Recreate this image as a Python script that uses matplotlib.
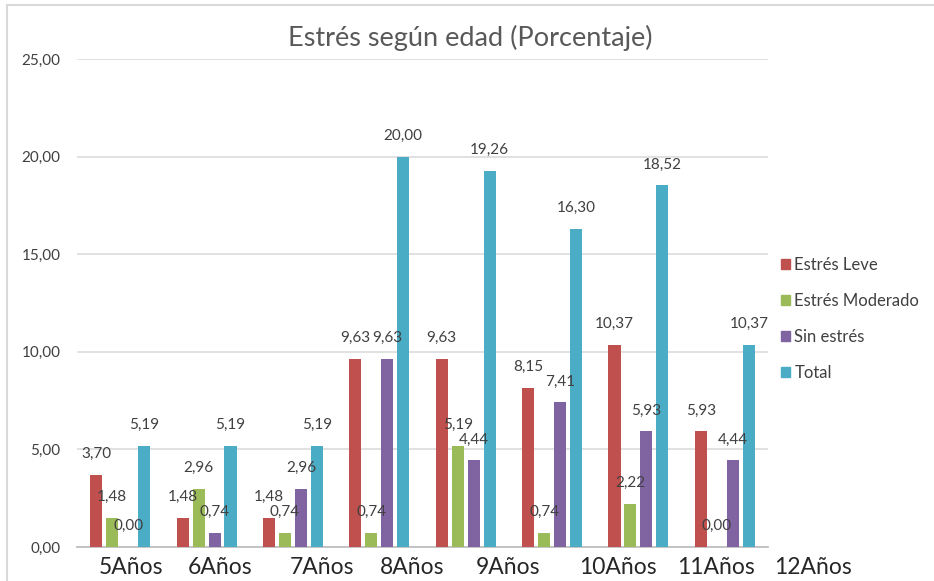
import matplotlib.pyplot as plt
from matplotlib.lines import Line2D
from matplotlib.patches import Patch

# Datos
edades = ["5Años", "6Años", "7Años", "8Años", "9Años", "10Años", "11Años", "12Años"]
series = ["Estrés Leve", "Estrés Moderado", "Sin estrés", "Total"]
leve = [3.70, 1.48, 1.48, 9.63, 9.63, 8.15, 10.37, 5.93]
moderado = [1.48, 2.96, 0.74, 0.74, 5.19, 0.74, 2.22, 0.00]
sin_estres = [0.00, 0.74, 2.96, 9.63, 4.44, 7.41, 5.93, 4.44]
total = [5.19, 5.19, 5.19, 20.00, 19.26, 16.30, 18.52, 10.37]
yticks = [0, 5, 10, 15, 20, 25]

colores = ['#C0504D', '#9BBB59', '#8064A2', '#4BACC6']
# las etiquetas del eje no quedan alineadas con los grupos en el original
tick_x = [0.12, 1.16, 2.34, 3.38, 4.49, 5.76, 6.90, 8.02]

plt.rcParams['font.family'] = ['Lato', 'DejaVu Sans']

fig = plt.figure(figsize=(9.34, 5.81), dpi=100)
ax = fig.add_axes([77 / 934, 1 - 547 / 581, (768 - 77) / 934, (547 - 59) / 581])

n = len(leve)
ancho = 0.14
paso = 0.185
valores = [leve, moderado, sin_estres, total]
for k, (vals, col) in enumerate(zip(valores, colores)):
    xs = [i + (k - 1.5) * paso for i in range(n)]
    ax.bar(xs, vals, width=ancho, color=col, zorder=3)
    for x, v in zip(xs, vals):
        ax.annotate(f"{v:.2f}".replace('.', ','), (x, v), xytext=(0, 15),
                    textcoords='offset points', ha='center', va='center',
                    fontsize=11, color='#404040', zorder=4)

ax.set_xlim(-0.5, n - 0.5)
ax.set_ylim(0, 25)
ax.set_yticks(yticks)
ax.set_yticklabels([f"{t:.2f}".replace('.', ',') for t in yticks],
                   fontsize=11, color='#404040')
ax.tick_params(axis='y', length=0, pad=12)
ax.set_xticks([])
ax.grid(axis='y', color='#d9d9d9', linewidth=1.1, zorder=0)
for s in ['top', 'right', 'left']:
    ax.spines[s].set_visible(False)
ax.spines['bottom'].set_color('#bfbfbf')
ax.spines['bottom'].set_linewidth(1.3)

for x, lab in zip(tick_x, edades):
    ax.text(x, -0.042, lab, transform=ax.get_xaxis_transform(), ha='center',
            va='center', fontsize=16.5, color='#262626', clip_on=False)

fig.text(470 / 934, 1 - 38 / 581, "Estrés según edad (Porcentaje)",
         ha='center', va='center', fontsize=19.5, color='#595959')

handles = [Patch(color=c) for c in colores]
fig.legend(handles, series, loc='center left', bbox_to_anchor=(766 / 934, 1 - 319 / 581),
           frameon=False, fontsize=12, handlelength=0.55, handleheight=0.55,
           handletextpad=0.25, labelspacing=1.2, labelcolor='#404040')

# marco del gráfico
fig.add_artist(Line2D([7 / 934, 1], [1 - 5 / 581, 1 - 5 / 581],
                      transform=fig.transFigure, color='#d9d9d9', linewidth=1.5))
fig.add_artist(Line2D([7 / 934, 7 / 934], [0, 1 - 5 / 581],
                      transform=fig.transFigure, color='#d9d9d9', linewidth=1.5))

fig.savefig('out.png', dpi=100)
